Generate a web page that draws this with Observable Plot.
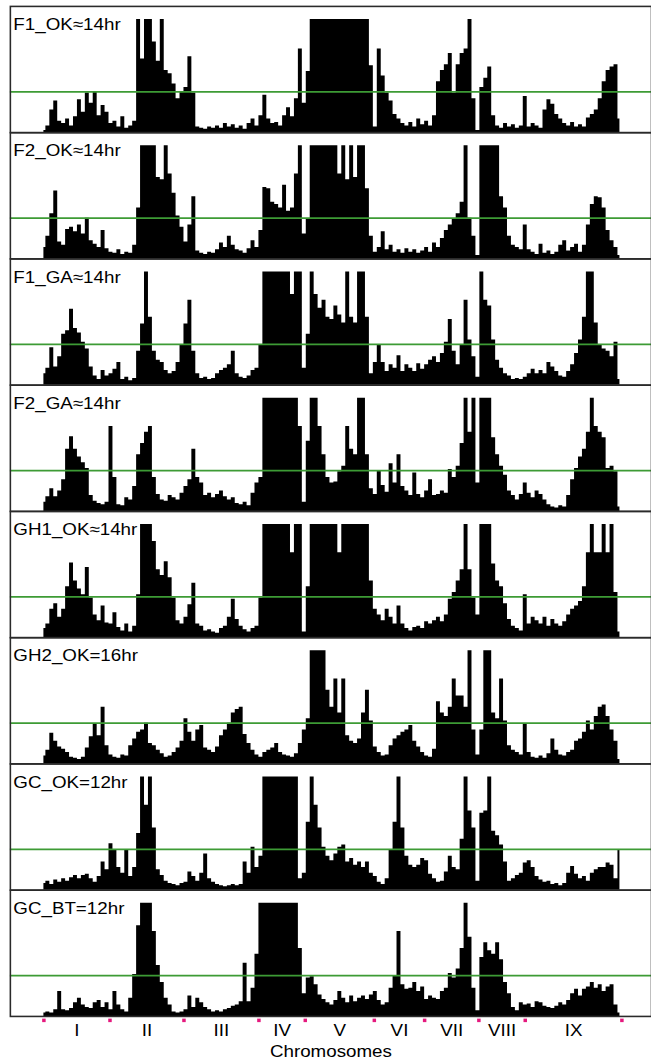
<!DOCTYPE html>
<html><head><meta charset="utf-8">
<script src="https://cdn.jsdelivr.net/npm/d3@7"></script>
<script src="https://cdn.jsdelivr.net/npm/@observablehq/plot@0.6"></script>
<style>
body{margin:0;overflow:hidden;background:#fff;}
#chart{width:651px;height:1060px;overflow:hidden;}
</style>
</head><body><div id="chart"></div>
<script>
const panels = ["F1_OK≈14hr","F2_OK≈14hr","F1_GA≈14hr","F2_GA≈14hr","GH1_OK≈14hr","GH2_OK=16hr","GC_OK=12hr","GC_BT=12hr"];
const chromosomes = ["I","II","III","IV","V","VI","VII","VIII","IX"];
const chromLengths = [67,75,76,47,70,51,55,47,98];
const binWidth = 4;
const threshold = 3.6;
const axisTitle = "Chromosomes";

const f1OK = [
0.2,0.6,2.0,2.8,1.0,0.8,1.2,0.6,1.4,2.9,
1.8,3.5,2.6,3.6,1.5,2.4,1.8,0.8,1.0,0.5,
1.4,0.4,0.6,1.0,10,6.5,10,10,8,6.3,
10,5.5,5.2,4.3,3.0,3.6,4.0,6.7,3.5,0.5,
0.4,0.3,0.5,0.4,0.6,0.4,0.8,0.5,0.7,0.4,
0.6,0.3,0.8,1.2,0.6,1.5,3.3,1.2,0.8,0.9,
0.6,1.5,2.2,1.4,3.0,7.4,2.6,5.4,10,10,
10,10,10,10,10,10,10,10,10,10,
10,10,10,5.9,0.5,7.4,5.0,3.5,2.8,1.6,
1.2,0.8,0.6,0.9,0.5,1.2,0.7,1.0,0.6,1.5,
4.5,5.5,6.0,7.0,3.5,6.0,7.0,7.4,10,3.0,
0.2,4.0,4.8,5.8,1.5,0.6,0.4,0.8,0.5,0.7,
0.4,0.6,3.2,0.5,0.8,0.6,0.4,2.0,2.9,2.5,
1.6,1.2,0.8,0.6,0.9,0.5,0.7,0.5,1.3,1.6,
2.0,3.0,4.5,5.5,5.8,6.0,1.2];
const f2OK = [
1.0,2.0,4.0,6.0,1.5,1.2,2.6,2.8,2.4,3.0,
2.2,3.6,1.6,1.3,1.0,2.5,0.9,0.6,0.5,0.8,
0.4,0.6,0.5,1.2,4.5,10,10,10,10,7.2,
7.0,10,7.5,5.8,3.8,2.8,1.5,3.0,5.5,0.7,
0.5,0.4,0.6,0.5,0.8,1.4,1.0,2.0,1.2,0.8,
0.7,0.5,0.9,1.6,1.0,2.5,6.3,6.2,5.0,4.8,
4.5,6.5,4.2,4.5,7.5,10,2.2,3.5,10,10,
10,10,10,10,10,7.5,10,7.0,10,7.2,
10,10,6.2,2.0,0.6,1.0,2.4,0.8,1.2,0.6,
0.8,0.5,0.9,0.6,0.8,0.5,0.7,1.0,0.6,1.4,
1.0,1.8,2.5,3.0,3.5,4.0,5.0,10,3.6,2.0,
0.3,10,10,10,10,10,5.5,4.5,2.0,1.2,
1.0,0.8,3.0,0.8,0.6,0.4,1.3,0.5,0.7,0.4,
0.6,1.2,1.6,0.7,1.0,1.3,0.6,1.2,3.0,4.8,
5.5,5.4,4.5,2.5,1.6,1.0,0.3];
const f1GA = [
1.0,1.5,3.3,1.6,2.5,4.5,4.8,6.7,5.0,4.6,
3.8,3.2,1.6,0.8,0.5,1.3,0.8,1.0,1.4,2.0,
0.5,0.7,0.4,0.6,3.0,5.4,10,6.0,3.0,2.2,
2.0,1.3,1.0,1.2,2.0,3.6,5.4,7.5,3.0,1.0,
0.6,0.7,0.5,0.6,1.0,1.3,1.5,1.8,3.0,1.0,
0.7,0.6,0.8,1.3,1.5,3.5,10,10,10,10,
10,10,10,8.0,10,10,1.5,4.5,10,8.0,
6.8,7.5,6.0,5.8,7.0,6.2,5.5,10,6.0,5.5,
10,10,6.0,1.0,2.0,3.5,2.0,1.2,1.8,1.5,
2.6,1.2,1.8,1.5,1.2,1.9,1.4,1.8,2.2,2.5,
2.0,2.8,3.8,5.8,3.0,1.8,3.5,7.5,4.0,2.5,
0.7,10,7.5,7.0,4.0,2.2,1.5,1.0,0.8,0.5,
0.6,0.5,0.7,1.0,1.4,1.0,1.3,1.0,2.0,1.6,
1.2,0.8,0.7,1.2,1.8,2.8,4.0,6.0,10,10,
5.5,3.5,3.2,3.0,2.5,3.8,0.5];
const f2GA = [
0.8,1.3,2.0,1.3,1.8,2.8,5.5,6.6,5.5,4.8,
4.3,3.8,1.4,0.9,0.7,0.6,0.8,7.5,3.0,0.6,
0.5,1.2,1.0,2.2,5.0,6.0,7.0,7.5,3.0,1.5,
1.0,0.9,1.4,1.2,1.0,1.6,2.2,2.8,5.5,3.0,
2.5,1.4,1.6,1.2,1.5,1.8,1.3,1.0,1.2,0.7,
0.6,0.8,0.5,1.6,2.5,3.0,10,10,10,10,
10,10,10,10,10,7.5,0.8,6.2,10,10,
7.5,5.0,3.0,2.5,2.6,3.5,4.0,7.5,5.5,5.0,
10,10,5.0,2.0,1.5,3.6,2.3,1.7,4.2,2.5,
5.0,2.2,1.8,1.4,3.4,1.5,1.2,1.8,2.8,1.4,
1.5,1.8,1.6,3.7,3.0,4.0,6.0,10,7.0,10,
2.5,10,10,10,6.5,5.0,4.0,3.2,1.8,1.4,
1.0,1.5,2.5,1.6,1.2,1.8,1.5,1.0,0.6,0.4,
0.3,0.5,0.4,1.4,2.8,3.8,4.8,5.5,7.0,10,
7.5,7.0,6.5,3.8,4.0,3.5,0.4];
const gh1OK = [
0.8,1.2,2.5,3.0,1.8,2.5,4.5,6.6,5.0,4.3,
3.8,6.2,3.5,2.0,1.5,2.8,1.3,1.2,2.2,0.9,
0.6,1.2,0.5,1.0,3.8,10,10,10,8.5,6.0,
5.5,6.7,5.3,3.5,1.5,1.2,1.8,2.9,4.8,1.2,
1.0,0.6,0.7,0.5,0.4,0.8,1.0,1.8,3.4,1.6,
1.0,0.7,0.5,0.8,1.0,3.5,10,10,10,10,
10,10,10,7.5,10,10,0.5,4.5,10,10,
10,10,10,10,10,7.5,10,10,10,10,
10,10,10,5.0,2.5,2.0,1.5,2.5,1.8,1.2,
2.8,1.2,0.8,0.6,0.9,1.0,0.8,1.4,1.2,1.5,
1.8,1.4,2.0,3.4,4.0,5.0,6.0,10,6.0,3.5,
2.0,10,10,10,6.5,5.0,4.5,3.0,1.6,1.0,
0.8,0.6,3.8,1.2,1.8,1.5,1.2,1.8,1.0,1.6,
1.2,1.0,1.4,2.0,2.5,2.8,3.2,4.5,7.5,10,
7.5,7.5,10,7.5,10,4.0,0.5];
const gh2OK = [
0.7,1.2,2.7,2.0,1.5,1.3,1.0,0.6,0.5,0.4,
0.6,1.4,2.4,3.5,2.5,5.0,1.6,0.8,0.6,0.5,
0.8,0.7,1.6,2.2,2.8,3.0,3.6,1.8,1.6,1.2,
0.9,0.6,0.7,1.0,1.4,2.0,4.0,2.8,2.0,3.0,
3.4,1.4,1.2,1.0,1.5,2.5,3.0,3.6,4.5,4.8,
5.0,2.6,1.8,1.2,0.8,0.6,1.0,1.2,1.4,1.8,
1.0,0.8,0.7,0.6,0.9,1.8,3.0,4.0,10,10,
10,10,6.5,5.0,7.5,4.5,7.5,2.5,2.0,1.8,
2.2,4.5,6.5,3.8,1.5,1.0,0.7,0.8,1.6,2.2,
2.5,2.8,3.0,3.4,2.0,1.5,1.0,0.7,0.6,1.3,
5.5,4.5,4.2,5.0,7.5,6.0,6.0,5.0,10,3.0,
0.8,3.0,10,10,4.5,4.0,7.5,3.8,1.6,1.2,
1.0,0.8,3.5,1.0,0.6,0.5,0.7,0.5,0.9,2.2,
1.2,0.8,0.7,1.0,1.2,2.0,2.2,2.8,3.8,3.0,
4.2,5.0,5.2,4.2,3.0,2.0,0.4];
const gcOK = [
0.6,0.8,0.5,0.9,0.7,1.0,0.8,1.1,1.3,1.0,
1.3,1.4,1.0,0.7,1.2,2.5,1.8,4.1,3.5,2.0,
1.5,3.6,1.2,2.0,5.0,10,7.5,10,5.5,1.8,
1.3,0.8,0.6,0.5,0.4,0.6,0.7,1.6,1.2,0.8,
1.5,3.2,1.0,0.7,0.5,0.4,0.3,0.4,0.5,0.4,
0.5,2.5,1.5,3.8,2.0,3.0,10,10,10,10,
10,10,10,10,10,1.0,1.5,6.0,10,7.5,
5.5,3.8,3.0,2.6,3.2,3.8,4.0,2.5,2.8,2.2,
2.5,2.0,2.5,1.5,1.2,0.7,0.5,1.0,3.6,6.0,
10,5.5,3.0,2.2,2.0,2.2,2.8,2.6,1.4,1.0,
0.7,0.8,1.6,3.0,2.0,1.8,4.5,10,7.0,5.5,
0.8,6.8,7.0,10,5.2,4.8,4.0,2.5,0.8,1.0,
1.3,1.5,2.4,2.6,2.0,1.2,0.9,0.7,0.8,0.5,
0.6,0.4,0.6,1.5,2.1,1.4,1.0,1.2,0.8,1.5,
1.8,2.0,2.0,2.4,2.2,1.0,3.6];
const gcBT = [
0.3,0.4,0.3,0.6,2.2,0.6,0.5,0.7,1.2,1.6,
1.0,0.8,0.7,1.2,1.4,0.8,1.2,0.6,2.2,1.0,
0.6,0.4,1.6,3.7,8.0,10,10,10,7.5,4.5,
3.0,1.6,1.0,0.4,0.3,0.4,0.6,1.8,0.8,1.6,
1.2,0.8,0.6,0.4,0.5,0.4,0.6,0.7,0.9,1.0,
1.3,4.7,1.3,2.5,5.5,10,10,10,10,10,
10,10,10,10,10,6.0,2.0,3.4,3.5,2.8,
1.9,1.5,1.2,1.0,1.4,2.2,1.6,1.2,1.8,1.3,
1.6,1.8,1.5,1.9,2.2,1.4,1.0,1.2,2.5,3.6,
7.5,2.8,2.4,2.5,3.0,2.2,2.6,1.5,1.8,1.6,
1.5,2.2,2.5,3.8,3.4,4.2,6.0,10,7.0,2.5,
0.5,5.2,6.5,5.8,5.5,6.5,5.0,3.0,2.0,0.8,
0.5,1.2,1.0,1.1,0.8,1.3,1.2,0.9,0.8,0.7,
0.9,1.2,1.0,1.4,2.0,2.4,1.8,2.4,2.6,3.0,
2.5,2.8,2.2,2.6,2.8,1.0,0.3];

const series = [f1OK, f2OK, f1GA, f2GA, gh1OK, gh2OK, gcOK, gcBT];
const rows = panels.flatMap((p, k) => series[k].map((v, i) => ({panel: p, pos: i * binWidth, value: v})));
const bounds = [0, ...Array.from(d3.cumsum(chromLengths))];
const genomeLength = bounds[bounds.length - 1];
const last = panels[panels.length - 1];
const mids = chromosomes.map((c, i) => ({name: c, pos: bounds[i] + chromLengths[i] / 2, panel: last}));
const ticks = bounds.map(b => ({pos: b, panel: last}));

const plot = Plot.plot({
  width: 660, height: 1060,
  marginTop: 5, marginBottom: 30, marginLeft: 10, marginRight: 0,
  style: {fontFamily: "'Liberation Sans', Arial, sans-serif", background: "white", overflow: "visible"},
  x: {domain: [0, genomeLength], insetLeft: 34, insetRight: 30, axis: null},
  y: {domain: [0, 11.15], axis: null},
  fy: {domain: panels, padding: 0, axis: null},
  marks: [
    Plot.areaY(rows, {x: "pos", y: "value", fy: "panel", fill: "black", curve: "step"}),
    Plot.ruleY([threshold], {stroke: "#3d9b35", strokeWidth: 1.8}),
    Plot.frame({stroke: "#2a2a2a", strokeWidth: 1.6}),
    Plot.text(panels.map(p => ({panel: p})), {fy: "panel", text: "panel", frameAnchor: "top-left", lineAnchor: "top", dx: 3, dy: 12, fontSize: 17, fill: "black"}),
    Plot.dot(ticks, {x: "pos", y: 0, fy: "panel", symbol: "square", r: 2, fill: "#e5197e", stroke: null, dy: 4}),
    Plot.text(mids, {x: "pos", y: 0, fy: "panel", text: "name", lineAnchor: "top", dy: 8, fontSize: 17, fill: "black"}),
    Plot.text([{panel: last, t: axisTitle}], {fy: "panel", text: "t", frameAnchor: "bottom", lineAnchor: "top", dy: 29, fontSize: 17, fill: "black"})
  ]
});
document.getElementById("chart").appendChild(plot);
d3.select(plot).selectAll("text").each(function() {
  const w = this.getComputedTextLength();
  if (w > 0) {
    this.setAttribute("textLength", (w * 1.12).toFixed(1));
    this.setAttribute("lengthAdjust", "spacingAndGlyphs");
  }
});
</script>
</body></html>
